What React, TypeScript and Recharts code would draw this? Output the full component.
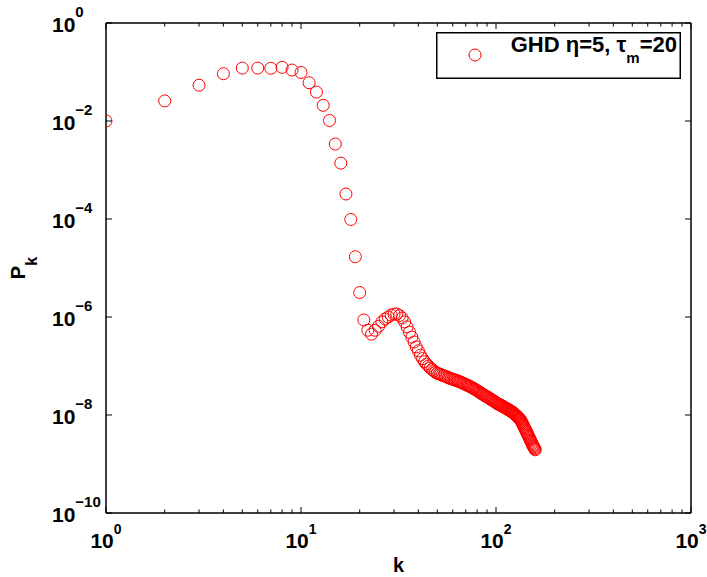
import { Legend, Scatter, ScatterChart, XAxis, YAxis } from "recharts";

const FONT = '"Liberation Sans", Arial, Helvetica, sans-serif';
const RED = "#ff0000";

// log10(P_k) for k = 1, 2, 3, ...
const LOG_PK = [
  -2.0, -1.59, -1.27, -1.035, -0.92, -0.92, -0.925, -0.905, -0.96, -1.01,
  -1.22, -1.41, -1.68, -1.99, -2.47, -2.86, -3.49, -4.01, -4.77, -5.5,
  -6.06, -6.27, -6.35, -6.27, -6.19, -6.1, -6.04, -6.0, -5.96, -5.94,
  -5.94, -5.97, -6.02, -6.1, -6.2, -6.31, -6.41, -6.51, -6.61, -6.69,
  -6.78, -6.85, -6.91, -6.96, -7.0, -7.04, -7.07, -7.1, -7.13, -7.15,
  -7.16, -7.17, -7.19, -7.2, -7.21, -7.22, -7.24, -7.25, -7.26, -7.27,
  -7.28, -7.29, -7.3, -7.31, -7.32, -7.33, -7.345, -7.355, -7.365, -7.38,
  -7.39, -7.4, -7.41, -7.425, -7.44, -7.45, -7.46, -7.475, -7.49, -7.5,
  -7.515, -7.53, -7.545, -7.56, -7.57, -7.58, -7.595, -7.61, -7.62, -7.63,
  -7.64, -7.655, -7.665, -7.68, -7.69, -7.7, -7.71, -7.725, -7.735, -7.75,
  -7.76, -7.77, -7.78, -7.785, -7.795, -7.805, -7.815, -7.82, -7.83, -7.84,
  -7.85, -7.86, -7.865, -7.875, -7.885, -7.895, -7.9, -7.91, -7.92, -7.93,
  -7.94, -7.95, -7.96, -7.97, -7.985, -7.995, -8.01, -8.02, -8.035, -8.05,
  -8.06, -8.075, -8.09, -8.11, -8.135, -8.16, -8.185, -8.21, -8.235, -8.26,
  -8.285, -8.31, -8.335, -8.36, -8.385, -8.41, -8.435, -8.46, -8.485, -8.51,
  -8.535, -8.56, -8.585, -8.61, -8.63, -8.65, -8.67, -8.69, -8.71,
];

const X_TICKS = [
  1, 2, 3, 4, 5, 6, 7, 8, 9,
  10, 20, 30, 40, 50, 60, 70, 80, 90,
  100, 200, 300, 400, 500, 600, 700, 800, 900,
  1000,
];
const Y_TICKS = [1e-10, 1e-8, 1e-6, 1e-4, 1e-2, 1];

const data = LOG_PK.map((lp, i) => ({ k: i + 1, p: Math.pow(10, lp) }));

// label anchor sits tickSize + tickMargin = 1px away from the axis line
const OFF = 1;

function expLabel(v: number) {
  const e = Math.round(Math.log10(v));
  return e < 0 ? `\u2212${-e}` : `${e}`;
}

function isDecade(v: number) {
  const l = Math.log10(v);
  return Math.abs(l - Math.round(l)) < 1e-9;
}

function XTick(props: any) {
  const { x, payload, dir, showLabel } = props;
  const y = props.y + dir * OFF;
  const major = isDecade(payload.value);
  const len = major ? 6 : 3.5;
  return (
    <g>
      <line x1={x} x2={x} y1={y} y2={y + dir * len} stroke="#000" strokeWidth={1} />
      {showLabel && major && (
        <text x={x} y={y + 35} textAnchor="middle" fontFamily={FONT} fontWeight="bold" fontSize={21} fill="#000">
          10
          <tspan dy={-14} fontSize={14}>
            {expLabel(payload.value)}
          </tspan>
        </text>
      )}
    </g>
  );
}

function YTick(props: any) {
  const { y, payload, dir, showLabel } = props;
  const x = props.x + dir * OFF;
  return (
    <g>
      <line x1={x} x2={x + dir * 6} y1={y} y2={y} stroke="#000" strokeWidth={1} />
      {showLabel && (
        <text x={x - 54} y={y + 9} textAnchor="start" fontFamily={FONT} fontWeight="bold" fontSize={21} fill="#000">
          10
          <tspan dy={-15} fontSize={15}>
            {expLabel(payload.value)}
          </tspan>
        </text>
      )}
    </g>
  );
}

function LegendBox() {
  return (
    <svg width={245} height={47} style={{ display: "block" }}>
      <rect x={0.75} y={0.75} width={243.5} height={45.5} fill="#fff" stroke="#000" strokeWidth={1.5} />
      <circle cx={39} cy={23} r={6} fill="none" stroke={RED} strokeWidth={1} />
      <text x={241} y={20} textAnchor="end" fontFamily={FONT} fontWeight="bold" fontSize={22} fill="#000">
        GHD η=5, τ
        <tspan dy={11} fontSize={15}>m</tspan>
        <tspan dy={-11}>=20</tspan>
      </text>
    </svg>
  );
}

export default function App() {
  const axisLine = { stroke: "#000", strokeWidth: 1.5 };
  return (
    <div style={{ position: "absolute", left: 0, top: 0 }}>
      <ScatterChart width={707} height={577} margin={{ top: 22, right: 15, bottom: 0, left: 0 }}>
        <XAxis
          xAxisId="bottom"
          dataKey="k"
          type="number"
          scale="log"
          domain={[1, 1000]}
          ticks={X_TICKS}
          allowDataOverflow
          height={64}
          stroke="#000"
          axisLine={axisLine}
          tickLine={false}
          tickSize={1}
          tickMargin={0}
          interval={0}
          tick={(p: any) => <XTick {...p} dir={-1} showLabel />}
          label={(p: any) => {
            const vb = p.viewBox;
            return (
              <text x={vb.x + vb.width / 2} y={vb.y + vb.height - 5} textAnchor="middle" fontFamily={FONT} fontWeight="bold" fontSize={20} fill="#000">
                k
              </text>
            );
          }}
        />
        <XAxis
          xAxisId="top"
          orientation="top"
          dataKey="k"
          type="number"
          scale="log"
          domain={[1, 1000]}
          ticks={X_TICKS}
          allowDataOverflow
          height={1}
          stroke="#000"
          axisLine={axisLine}
          tickLine={false}
          tickSize={1}
          tickMargin={0}
          interval={0}
          tick={(p: any) => <XTick {...p} dir={1} showLabel={false} />}
        />
        <YAxis
          yAxisId="left"
          dataKey="p"
          type="number"
          scale="log"
          domain={[1e-10, 1]}
          ticks={Y_TICKS}
          allowDataOverflow
          width={106}
          stroke="#000"
          axisLine={axisLine}
          tickLine={false}
          tickSize={1}
          tickMargin={0}
          interval={0}
          tick={(p: any) => <YTick {...p} dir={1} showLabel />}
          label={(p: any) => {
            const vb = p.viewBox;
            const cy = vb.y + vb.height / 2;
            return (
              <text transform={`translate(25, ${cy}) rotate(-90)`} textAnchor="middle" fontFamily={FONT} fontWeight="bold" fontSize={20} fill="#000">
                P<tspan dy={12} fontSize={16}>k</tspan>
              </text>
            );
          }}
        />
        <YAxis
          yAxisId="right"
          orientation="right"
          dataKey="p"
          type="number"
          scale="log"
          domain={[1e-10, 1]}
          ticks={Y_TICKS}
          allowDataOverflow
          width={1}
          stroke="#000"
          axisLine={axisLine}
          tickLine={false}
          tickSize={1}
          tickMargin={0}
          interval={0}
          tick={(p: any) => <YTick {...p} dir={-1} showLabel={false} />}
        />
        <Legend
          layout="horizontal"
          verticalAlign="middle"
          align="center"
          width={245}
          height={47}
          wrapperStyle={{ left: 436, top: 32, width: 245, height: 47 }}
          content={() => <LegendBox />}
        />
        <Scatter
          name="GHD η=5, τm=20"
          data={data}
          xAxisId="bottom"
          yAxisId="left"
          isAnimationActive={false}
          shape={(p: any) => <circle cx={p.cx} cy={p.cy} r={6} fill="none" stroke={RED} strokeWidth={1} />}
        />
      </ScatterChart>
    </div>
  );
}
